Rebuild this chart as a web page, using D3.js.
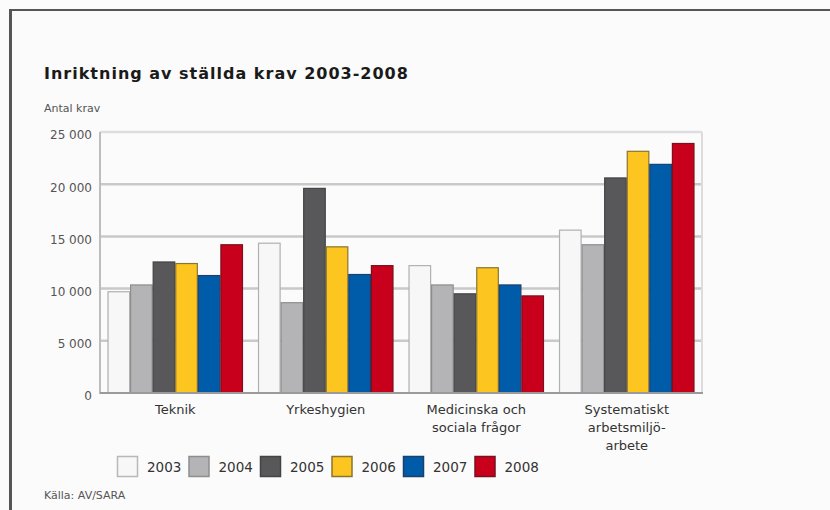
<!DOCTYPE html>
<html lang="sv">
<head>
  <meta charset="UTF-8">
  <title>Inriktning av ställda krav 2003-2008</title>
  <style>
    body { margin: 0; padding: 0; background: #fbfbfb; }
    svg { display: block; font-family: Verdana, "DejaVu Sans", sans-serif; }
  </style>
</head>
<body>
  <svg id="chart" width="830" height="510"></svg>
  <script src="https://d3js.org/d3.v7.min.js"></script>
  <script>
    // data
    const categories = [
      ["Teknik"],
      ["Yrkeshygien"],
      ["Medicinska och", "sociala frågor"],
      ["Systematiskt", "arbetsmiljö-", "arbete"]
    ];
    const years = ["2003", "2004", "2005", "2006", "2007", "2008"];
    const v2003 = [9700, 14350, 12200, 15600];
    const v2004 = [10350, 8650, 10350, 14200];
    const v2005 = [12550, 19600, 9500, 20600];
    const v2006 = [12400, 14000, 12000, 23150];
    const v2007 = [11250, 11350, 10350, 21900];
    const v2008 = [14200, 12200, 9300, 23900];
    const yTicks = [0, 5000, 10000, 15000, 20000, 25000];
    const fills = ["#f7f7f7", "#b4b4b6", "#58585a", "#fdc51f", "#005ca9", "#c8001c"];
    const edges = ["#b0b0b0", "#8e8e8e", "#444446", "#8a7433", "#1e3f6e", "#7a1020"];

    const series = [v2003, v2004, v2005, v2006, v2007, v2008];
    const catKeys = categories.map(c => c.join(" "));

    const svg = d3.select("#chart");

    // frame lines (top + left)
    svg.append("rect").attr("x", 0).attr("y", 0).attr("width", 830).attr("height", 510).attr("fill", "#fbfbfb");
    svg.append("line").attr("x1", 9).attr("x2", 830).attr("y1", 10).attr("y2", 10)
      .attr("stroke", "#555").attr("stroke-width", 2);
    svg.append("line").attr("x1", 10.5).attr("x2", 10.5).attr("y1", 9).attr("y2", 510)
      .attr("stroke", "#555").attr("stroke-width", 3);

    // titles
    svg.append("text").attr("x", 44).attr("y", 79)
      .attr("font-size", 16).attr("font-weight", "bold").attr("fill", "#1a1a1a")
      .attr("letter-spacing", 1)
      .text("Inriktning av ställda krav 2003-2008");
    svg.append("text").attr("x", 44).attr("y", 112)
      .attr("font-size", 11).attr("fill", "#555")
      .text("Antal krav");

    const plotL = 100, plotR = 702, plotT = 132, plotB = 393;

    const x0 = d3.scaleBand().domain(catKeys).range([plotL, plotR])
      .paddingInner(0.1).paddingOuter(0.05);
    const x1 = d3.scaleBand().domain(years).range([0, x0.bandwidth()]);
    const y = d3.scaleLinear().domain([0, 25000]).range([plotB, plotT]);

    // grid
    svg.append("g").selectAll("line").data(yTicks.filter(t => t > 0)).join("line")
      .attr("x1", plotL).attr("x2", plotR)
      .attr("y1", d => y(d)).attr("y2", d => y(d))
      .attr("stroke", d => d === 25000 ? "#dedede" : "#c9c9c9")
      .attr("stroke-width", 2.5);
    // right frame
    svg.append("line").attr("x1", plotR).attr("x2", plotR).attr("y1", plotT).attr("y2", plotB)
      .attr("stroke", "#dcdcdc").attr("stroke-width", 2);

    // y axis labels
    const fmt = d => d === 0 ? "0" : d3.format(",")(d).replace(",", " ");
    const yAxis = d3.axisLeft(y).tickValues(yTicks).tickSize(0).tickPadding(8).tickFormat(fmt);
    const ya = svg.append("g").attr("transform", `translate(${plotL},3)`).call(yAxis);
    ya.select(".domain").remove();
    ya.selectAll("text").attr("font-family", "Verdana, 'DejaVu Sans', sans-serif")
      .attr("font-size", 12).attr("fill", "#555");

    // bars
    const groups = svg.append("g").selectAll("g").data(catKeys).join("g")
      .attr("transform", d => `translate(${x0(d)},0)`);
    groups.selectAll("rect")
      .data((d, ci) => years.map((yr, si) => ({ yr, si, v: series[si][ci] })))
      .join("rect")
      .attr("x", d => x1(d.yr) + 0.5)
      .attr("y", d => y(d.v))
      .attr("width", x1.bandwidth() - 1)
      .attr("height", d => plotB - y(d.v))
      .attr("fill", d => fills[d.si])
      .attr("stroke", d => edges[d.si])
      .attr("stroke-width", 1.2);

    // axis lines
    svg.append("line").attr("x1", plotL).attr("x2", plotL).attr("y1", plotT).attr("y2", plotB + 1)
      .attr("stroke", "#bdbdbd").attr("stroke-width", 2);
    svg.append("line").attr("x1", plotL).attr("x2", plotR + 1).attr("y1", plotB).attr("y2", plotB)
      .attr("stroke", "#9a9a9a").attr("stroke-width", 2);

    // category labels
    const xl = svg.append("g").selectAll("text").data(categories).join("text")
      .attr("x", (d, i) => x0(catKeys[i]) + x0.bandwidth() / 2)
      .attr("y", 414)
      .attr("text-anchor", "middle")
      .attr("font-size", 13).attr("fill", "#333");
    xl.selectAll("tspan").data(d => d).join("tspan")
      .attr("x", function () { return this.parentNode.getAttribute("x"); })
      .attr("dy", (d, i) => i === 0 ? 0 : 18)
      .text(d => d);

    // legend
    const legend = svg.append("g").selectAll("g").data(years).join("g")
      .attr("transform", (d, i) => `translate(${117 + i * 71.5},456)`);
    legend.append("rect").attr("x", 0.5).attr("y", 0.5).attr("width", 20).attr("height", 20)
      .attr("fill", (d, i) => fills[i]).attr("stroke", (d, i) => i === 0 ? "#b8b8b8" : edges[i])
      .attr("stroke-width", 1.5);
    legend.append("text").attr("x", 30).attr("y", 15.5)
      .attr("font-size", 13.5).attr("fill", "#333")
      .text(d => d);

    // source
    svg.append("text").attr("x", 44).attr("y", 499)
      .attr("font-size", 11).attr("fill", "#555")
      .text("Källa: AV/SARA");
  </script>
</body>
</html>
